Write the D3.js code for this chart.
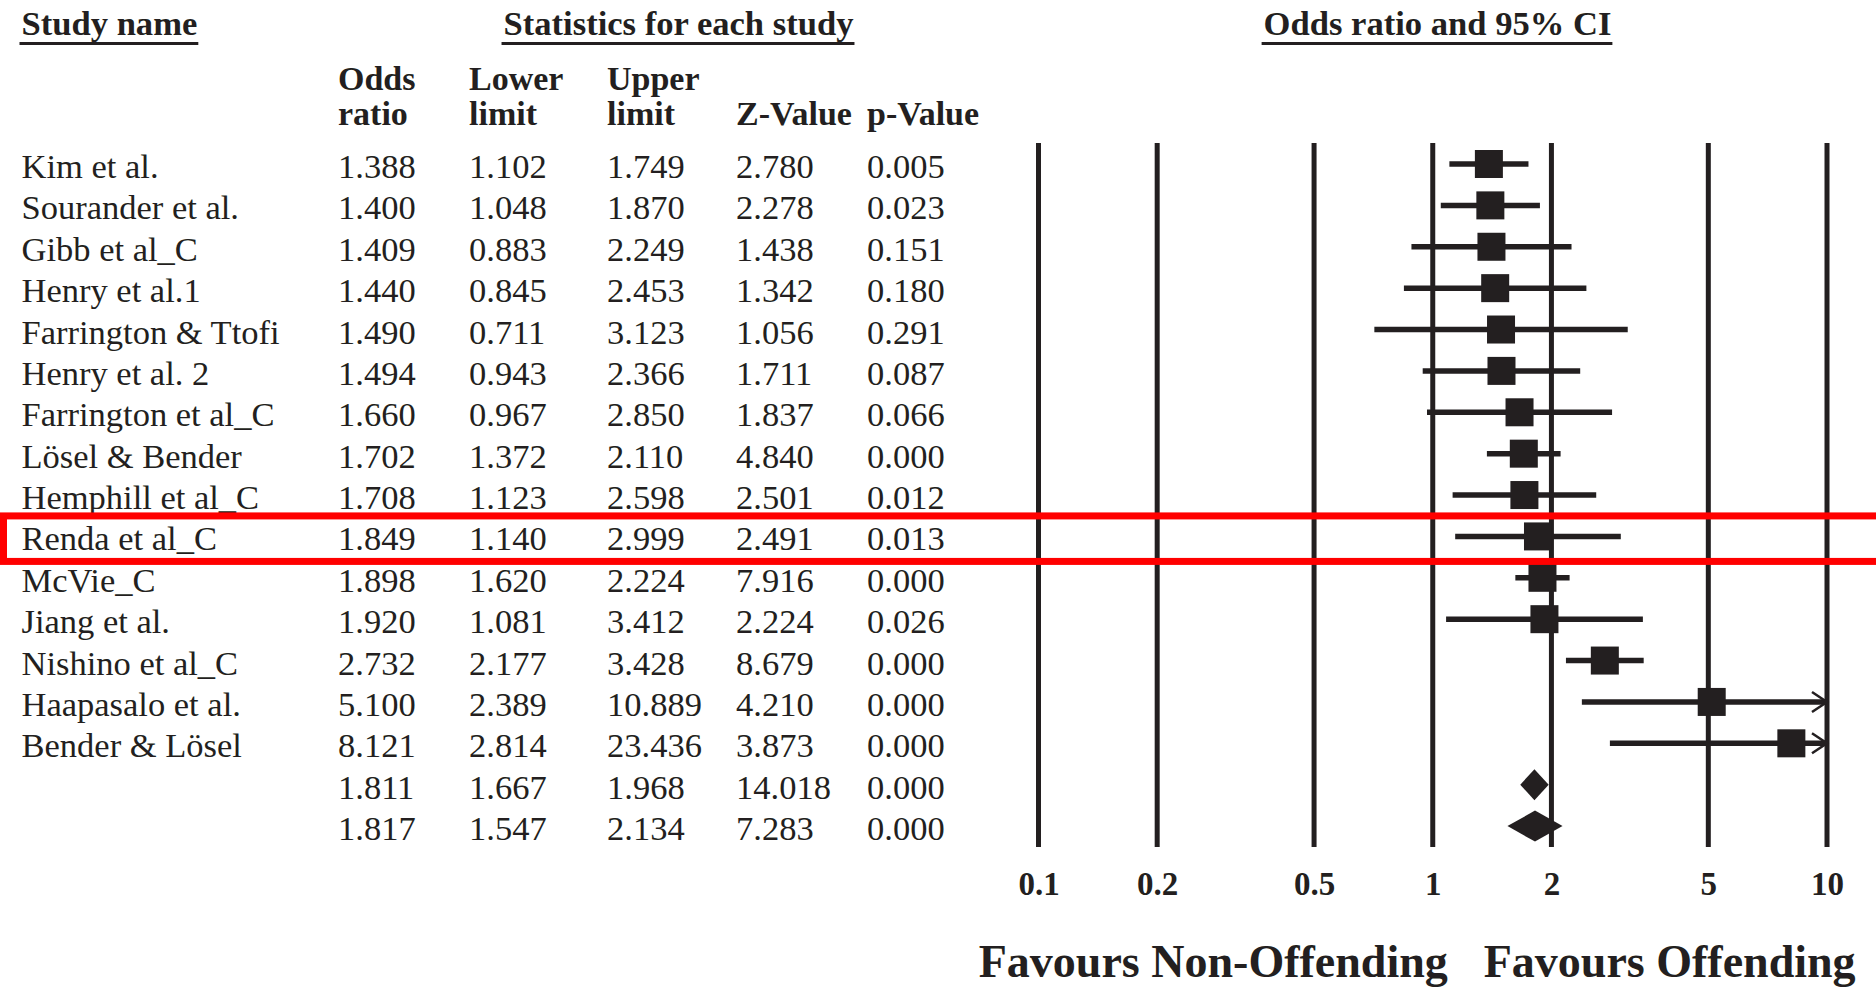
<!DOCTYPE html>
<html>
<head>
<meta charset="utf-8">
<script src="https://cdn.jsdelivr.net/npm/d3@7/dist/d3.min.js"></script>
<style>
  html, body { margin: 0; padding: 0; background: #fff; }
  svg { display: block; }
  text { font-family: "Liberation Serif", "Times New Roman", serif; fill: #231f20; }
</style>
</head>
<body>
<svg id="chart" width="1876" height="988"></svg>
<script>
// Study-level results
const studies = [
  "Kim et al.", "Sourander et al.", "Gibb et al_C", "Henry et al.1",
  "Farrington & Ttofi", "Henry et al. 2", "Farrington et al_C", "Lösel & Bender",
  "Hemphill et al_C", "Renda et al_C", "McVie_C", "Jiang et al.",
  "Nishino et al_C", "Haapasalo et al.", "Bender & Lösel"
];
const oddsRatio  = [1.388, 1.400, 1.409, 1.440, 1.490, 1.494, 1.660, 1.702, 1.708, 1.849, 1.898, 1.920, 2.732, 5.100, 8.121];
const lowerLimit = [1.102, 1.048, 0.883, 0.845, 0.711, 0.943, 0.967, 1.372, 1.123, 1.140, 1.620, 1.081, 2.177, 2.389, 2.814];
const upperLimit = [1.749, 1.870, 2.249, 2.453, 3.123, 2.366, 2.850, 2.110, 2.598, 2.999, 2.224, 3.412, 3.428, 10.889, 23.436];
const zValue     = [2.780, 2.278, 1.438, 1.342, 1.056, 1.711, 1.837, 4.840, 2.501, 2.491, 7.916, 2.224, 8.679, 4.210, 3.873];
const pValue     = [0.005, 0.023, 0.151, 0.180, 0.291, 0.087, 0.066, 0.000, 0.012, 0.013, 0.000, 0.026, 0.000, 0.000, 0.000];

// Pooled estimates (fixed, random)
const pooledOdds  = [1.811, 1.817];
const pooledLower = [1.667, 1.547];
const pooledUpper = [1.968, 2.134];
const pooledZ     = [14.018, 7.283];
const pooledP     = [0.000, 0.000];

const axisTicks = [0.1, 0.2, 0.5, 1, 2, 5, 10];
const highlightedStudy = "Renda et al_C";

const ink = "#231f20";
const svg = d3.select("#chart");

// Combined row table
const rows = studies.map((name, i) => ({
  name, or: oddsRatio[i], lo: lowerLimit[i], hi: upperLimit[i], z: zValue[i], p: pValue[i], pooled: false
})).concat(pooledOdds.map((v, i) => ({
  name: "", or: v, lo: pooledLower[i], hi: pooledUpper[i], z: pooledZ[i], p: pooledP[i], pooled: true
})));

const x = d3.scaleLog().domain([0.1, 10]).range([1038.5, 1827]);
const y = d3.scaleLinear().domain([0, rows.length - 1]).range([164, 164 + (rows.length - 1) * 41.38]);
const fmt = d3.format(".3f");

// ---- Headers ----
function underlined(txt, xPos, anchor) {
  const t = svg.append("text")
    .attr("x", xPos).attr("y", 35)
    .attr("text-anchor", anchor)
    .attr("font-size", 34.6).attr("font-weight", "bold")
    .text(txt);
  const b = t.node().getBBox();
  svg.append("line")
    .attr("x1", b.x - 2).attr("x2", b.x + b.width + 1)
    .attr("y1", 43.5).attr("y2", 43.5)
    .attr("stroke", ink).attr("stroke-width", 3);
}
underlined("Study name", 21.5, "start");
underlined("Statistics for each study", 678.5, "middle");
underlined("Odds ratio and 95% CI", 1437.5, "middle");

const colX = { or: 338, lo: 469, hi: 607, z: 736, p: 867 };
const colHeads = [
  { x: colX.or, l1: "Odds", l2: "ratio" },
  { x: colX.lo, l1: "Lower", l2: "limit" },
  { x: colX.hi, l1: "Upper", l2: "limit" },
  { x: colX.z, l1: "", l2: "Z-Value" },
  { x: colX.p, l1: "", l2: "p-Value" }
];
const hg = svg.append("g").attr("font-size", 34).attr("font-weight", "bold");
colHeads.forEach(h => {
  if (h.l1) hg.append("text").attr("x", h.x).attr("y", 90).text(h.l1);
  hg.append("text").attr("x", h.x).attr("y", 125).text(h.l2);
});

// ---- Table body ----
const body = svg.append("g").attr("font-size", 34.5);
const rowG = body.selectAll("g.row").data(rows).join("g")
  .attr("class", "row")
  .attr("transform", (d, i) => `translate(0,${y(i) + 14})`);
rowG.append("text").attr("x", 21.5).text(d => d.name);
["or", "lo", "hi", "z", "p"].forEach(k => {
  rowG.append("text").attr("x", colX[k]).text(d => fmt(d[k]));
});

// ---- Forest plot ----
const plot = svg.append("g");
plot.selectAll("line.grid").data(axisTicks).join("line")
  .attr("class", "grid")
  .attr("x1", d => x(d)).attr("x2", d => x(d))
  .attr("y1", 143).attr("y2", 847)
  .attr("stroke", ink).attr("stroke-width", 5);

// tick labels via axis
const axis = d3.axisBottom(x).tickValues(axisTicks).tickSize(0).tickPadding(0)
  .tickFormat(d => String(d));
const ag = plot.append("g").attr("transform", "translate(0,870)").call(axis);
ag.select(".domain").remove();
ag.selectAll("text")
  .attr("font-size", 33).attr("font-weight", "bold")
  .attr("font-family", "Liberation Serif, Times New Roman, serif")
  .attr("fill", ink).attr("dy", "0.75em");

const xMax = x.domain()[1];
const studyRows = rows.filter(d => !d.pooled);
const sg = plot.selectAll("g.study").data(studyRows).join("g").attr("class", "study");
sg.append("line")
  .attr("x1", d => x(d.lo)).attr("x2", d => x(Math.min(d.hi, xMax)))
  .attr("y1", (d, i) => y(i)).attr("y2", (d, i) => y(i))
  .attr("stroke", ink).attr("stroke-width", 5.5);
// open arrowheads where the interval runs past the axis
sg.filter(d => d.hi > xMax).append("path")
  .attr("d", (d) => {
    const i = rows.indexOf(d);
    const xe = x(xMax), yc = y(i);
    return `M${xe - 15},${yc - 10}L${xe},${yc}L${xe - 15},${yc + 10}`;
  })
  .attr("fill", "none").attr("stroke", ink).attr("stroke-width", 2.5);
const sq = 28;
sg.append("rect")
  .attr("x", d => x(d.or) - sq / 2)
  .attr("y", (d, i) => y(i) - sq / 2)
  .attr("width", sq).attr("height", sq)
  .attr("fill", ink);

// pooled diamonds
const pooledRows = rows.filter(d => d.pooled);
plot.selectAll("path.diamond").data(pooledRows).join("path")
  .attr("class", "diamond")
  .attr("d", d => {
    const i = rows.indexOf(d), yc = y(i), h = 15.5;
    return `M${x(d.lo)},${yc}L${x(d.or)},${yc - h}L${x(d.hi)},${yc}L${x(d.or)},${yc + h}Z`;
  })
  .attr("fill", ink);

// ---- Direction labels ----
svg.append("text").attr("x", x(1) + 15).attr("y", 977)
  .attr("text-anchor", "end").attr("font-size", 46).attr("font-weight", "bold")
  .text("Favours Non-Offending");
svg.append("text").attr("x", x(1) + 51).attr("y", 977)
  .attr("text-anchor", "start").attr("font-size", 46).attr("font-weight", "bold")
  .text("Favours Offending");

// ---- Highlight box ----
const hi = rows.findIndex(d => d.name === highlightedStudy);
svg.append("rect")
  .attr("x", 3.5).attr("y", y(hi) - 20.5)
  .attr("width", 1900).attr("height", 45.5)
  .attr("fill", "none").attr("stroke", "#ff0000").attr("stroke-width", 7);
</script>
</body>
</html>
